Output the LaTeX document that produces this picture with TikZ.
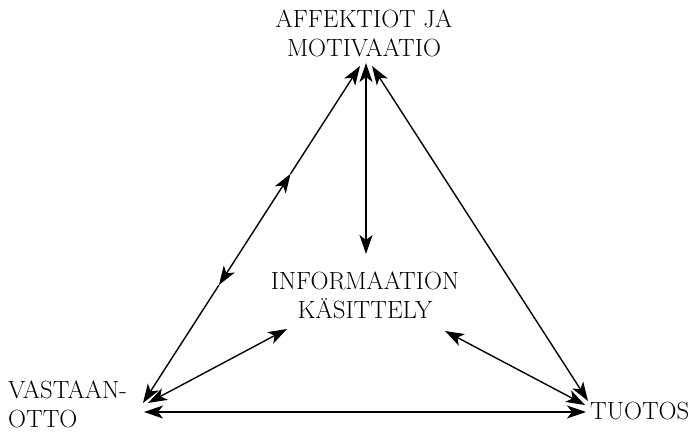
\documentclass[tikz,border=0pt]{standalone}
\usepackage{fontspec}
\usepackage{tikz}
\usetikzlibrary{arrows.meta, positioning, calc}

\tikzset{
  lbl/.style={align=center, inner sep=0pt, font=\fontsize{25}{29}\selectfont},
  arr/.style={line width=1.4bp, >={Stealth[length=19bp, width=13bp, inset=5bp]}}
}

\begin{document}
\begin{tikzpicture}[x=1bp, y=-1bp]
\useasboundingbox (0,0) rectangle (693,433);
% labels
\node[lbl] (aff) at (364,33) {AFFEKTIOT JA\\MOTIVAATIO};
\node[lbl] (info) at (365,295) {INFORMAATION\\KÄSITTELY};
\node[lbl, align=left, anchor=west] (vast) at (8,404) {VASTAAN-\\OTTO};
\node[lbl, anchor=west] (tuo) at (590,411) {TUOTOS};

% arrow ends
\coordinate (aL) at (360,66);
\coordinate (aM) at (366,63);
\coordinate (aR) at (372,66);
\coordinate (iT) at (366,254);
\coordinate (iL) at (287,329);
\coordinate (iR) at (445,331);
\coordinate (vA) at (143,403);
\coordinate (vI) at (148,403);
\coordinate (vB) at (144,412);
\coordinate (tA) at (588,401);
\coordinate (tI) at (585,405);
\coordinate (tB) at (586,412);
\coordinate (m1) at ($(vA)!0.35!(aL)$);
\coordinate (m2) at ($(vA)!0.68!(aL)$);

% left side
\draw[arr, <-] (vA) -- (m1);
\draw[arr, <->] (m1) -- (m2);
\draw[arr, ->] (m2) -- (aL);
% other sides
\draw[arr, <->] (aR) -- (tA);
\draw[arr, <->] (vB) -- (tB);
% to the centre
\draw[arr, <->] (aM) -- (iT);
\draw[arr, <->] (iL) -- (vI);
\draw[arr, <->] (iR) -- (tI);
\end{tikzpicture}
\end{document}
